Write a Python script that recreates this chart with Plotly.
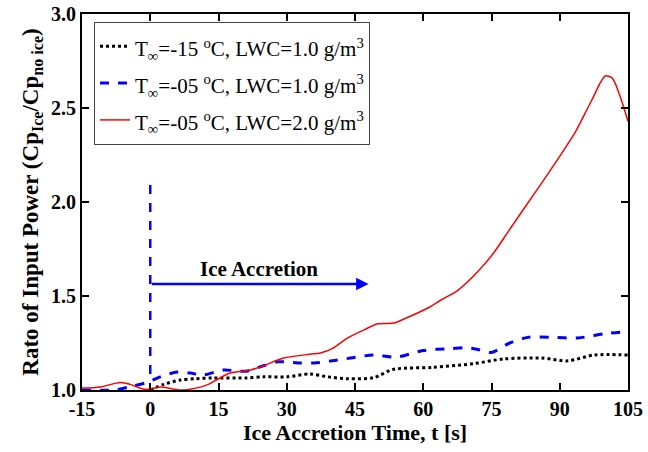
import plotly.graph_objects as go

# Data
t_black = [0, 3, 6.6, 10, 14, 21, 25, 30, 35, 39, 43.4, 49, 53.5, 62, 71, 77.7, 86, 91.8, 97.5, 105]
v_black = [1.0, 1.03, 1.053, 1.06, 1.064, 1.064, 1.07, 1.07, 1.085, 1.07, 1.06, 1.065, 1.11, 1.12,
           1.14, 1.165, 1.17, 1.155, 1.186, 1.186]

t_blue = [-15, -8, -4, -0.7, 2.2, 6, 8.8, 11.6, 16, 21, 25, 28, 33, 36, 40, 44, 49, 54, 60, 66,
          69.8, 72, 75, 79, 83, 88, 94, 100, 105]
v_blue = [1.0, 1.0, 1.02, 1.04, 1.07, 1.096, 1.09, 1.08, 1.106, 1.10, 1.13, 1.15, 1.144, 1.144,
          1.155, 1.17, 1.186, 1.175, 1.21, 1.22, 1.225, 1.215, 1.20, 1.25, 1.28, 1.28, 1.277, 1.30, 1.31]

t_red = [-15, -11, -6.6, -4.4, -1.6, 0, 2.2, 6.6, 10, 12.5, 15, 17.6, 22, 25, 29.3, 35, 37.4, 40,
         43.4, 47, 50, 53.5, 56, 61, 64, 67.6, 72, 75.5, 78.6, 82, 87.4, 91, 93.6, 97, 100, 101.5, 103, 105]
v_red = [1.01, 1.016, 1.04, 1.03, 1.005, 1.005, 1.016, 1.0, 1.01, 1.027, 1.06, 1.09, 1.106, 1.13,
         1.17, 1.19, 1.197, 1.22, 1.277, 1.32, 1.352, 1.356, 1.38, 1.436, 1.48, 1.53, 1.63, 1.73,
         1.84, 1.96, 2.15, 2.28, 2.38, 2.54, 2.67, 2.66, 2.58, 2.43]

names = [
    "T<sub>∞</sub>=-15 <sup>o</sup>C, LWC=1.0 g/m<sup>3</sup>",
    "T<sub>∞</sub>=-05 <sup>o</sup>C, LWC=1.0 g/m<sup>3</sup>",
    "T<sub>∞</sub>=-05 <sup>o</sup>C, LWC=2.0 g/m<sup>3</sup>",
]

x_ticks = [-15, 0, 15, 30, 45, 60, 75, 90, 105]
y_ticks = [1.0, 1.5, 2.0, 2.5, 3.0]

FONT = "Liberation Serif, Times New Roman, serif"


def legend_label(s):
    return '<span style="font-size:21px">' + s + "</span>"


fig = go.Figure()
fig.add_trace(go.Scatter(x=t_black, y=v_black, mode="lines", name=legend_label(names[0]),
                         line=dict(color="black", width=3, dash="dot", shape="spline", smoothing=0.8)))
fig.add_trace(go.Scatter(x=t_blue, y=v_blue, mode="lines", name=legend_label(names[1]),
                         line=dict(color="#0000ff", width=3, dash="dash", shape="spline", smoothing=0.8)))
fig.add_trace(go.Scatter(x=t_red, y=v_red, mode="lines", name=legend_label(names[2]),
                         line=dict(color="#ff0000", width=1.5, shape="spline", smoothing=0.8)))

# Vertical dashed marker at t=0
fig.add_shape(type="line", xref="x", yref="y", x0=0, x1=0, y0=1.085, y1=2.1,
              line=dict(color="#0000ff", width=2.5, dash="dash"))
# Arrow
fig.add_annotation(x=48, y=1.564, ax=0, ay=1.564, xref="x", yref="y", axref="x", ayref="y",
                   text="", showarrow=True, arrowhead=2, arrowsize=1, arrowwidth=2.5,
                   arrowcolor="#0000ff")
fig.add_annotation(x=23.8, y=1.644, xref="x", yref="y", text="Ice Accretion", showarrow=False,
                   font=dict(family=FONT, size=21, color="black", weight="bold"))

axis_common = dict(showline=True, linecolor="black", linewidth=2, mirror="ticks",
                   ticks="inside", ticklen=7, tickwidth=2, tickcolor="black",
                   showgrid=False, zeroline=False, automargin=False,
                   tickfont=dict(family=FONT, size=20, color="black", weight="bold"))

fig.update_xaxes(range=[-15, 105], tickvals=x_ticks, ticktext=[str(v) for v in x_ticks],
                 title=dict(text="Ice Accretion Time, t [s]", standoff=4,
                            font=dict(family=FONT, size=22, color="black", weight="bold")),
                 **axis_common)
fig.update_yaxes(range=[1.0, 3.0], tickvals=y_ticks, ticktext=[f"{v:.1f}" for v in y_ticks],
                 title=dict(text="Rato of Input Power (Cp<sub>Ice</sub>/Cp<sub>no ice</sub>)", standoff=6,
                            font=dict(family=FONT, size=23, color="black", weight="bold")),
                 **axis_common)

fig.update_layout(
    width=648, height=452,
    margin=dict(l=82, r=20, t=14, b=62),
    paper_bgcolor="white", plot_bgcolor="white",
    showlegend=True,
    legend=dict(x=0.022, y=0.979, xanchor="left", yanchor="top",
                bgcolor="white", bordercolor="#444444", borderwidth=1,
                font=dict(family=FONT, size=26, color="black"),
                tracegroupgap=0, itemwidth=30),
)

fig.write_html("out.html")
